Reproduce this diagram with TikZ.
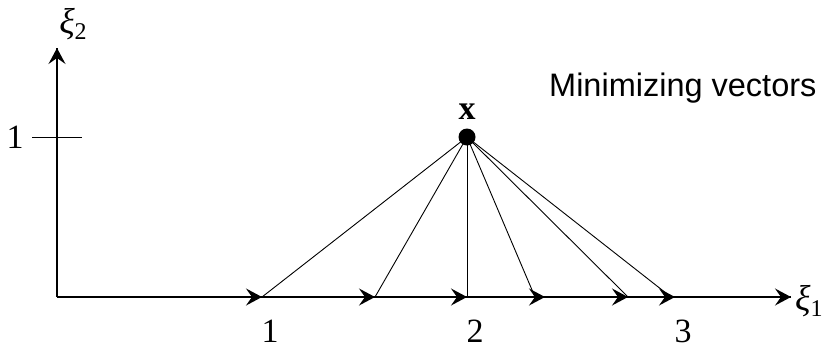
\documentclass[tikz,border=0pt]{standalone}
\usepackage{fontspec}
\setmainfont{Liberation Serif}
\newfontfamily\labsans{Liberation Sans}
\usetikzlibrary{arrows.meta,calc}
\tikzset{
  axisline/.style={line width=1.3pt},
  vecline/.style={line width=0.9pt},
  tipstyle/.style={-{Stealth[length=16pt,width=17pt,inset=6pt]}, line width=1.2pt},
  numlab/.style={font=\fontsize{34}{34}\selectfont, inner sep=0pt},
}
\begin{document}
\begin{tikzpicture}[x=1pt,y=-1pt]
\useasboundingbox (0,0) rectangle (829,357);
% axes
\coordinate (O) at (57,297);
\coordinate (ytop) at (57,48);
\coordinate (xend) at (791,297);
\draw[axisline] (O) -- (xend);
\draw[axisline] (O) -- (ytop);
\draw[tipstyle] ($(ytop)+(0,4)$) -- (ytop);
\draw[tipstyle] ($(xend)+(-4,0)$) -- (xend);
\node[inner sep=0pt, anchor=west] (xi1) at (795,301) {\fontsize{36}{36}\selectfont\itshape ξ\raisebox{-6pt}{\upshape\fontsize{24}{24}\selectfont 1}};
\node[inner sep=0pt] (xi2) at (73,24) {\fontsize{36}{36}\selectfont\itshape ξ\raisebox{-6pt}{\upshape\fontsize{24}{24}\selectfont 2}};
% tick
\coordinate (t1) at (32,137);
\coordinate (t2) at (82,137);
\draw[vecline] (t1) -- (t2);
\node[numlab] (one) at (15,137) {1};
% point x
\node[circle, fill=black, minimum size=17pt, inner sep=0pt] (X) at (467,137) {};
\node[inner sep=0pt] (xlab) at (467,112) {\fontsize{34}{34}\selectfont\bfseries x};
% tips on axis
\coordinate (a1) at (262,297);
\coordinate (a2) at (375,297);
\coordinate (a3) at (467,297);
\coordinate (a4) at (545,297);
\coordinate (a5) at (628,297);
\coordinate (a6) at (675,297);
\coordinate (e4) at (535,297);
\coordinate (e6) at (671,297);
\draw[vecline] (X.center) -- (a1);
\draw[vecline] (X.center) -- (a2);
\draw[vecline] (X.center) -- (a3);
\draw[vecline] (X.center) -- (e4);
\draw[vecline] (X.center) -- (a5);
\draw[vecline] (X.center) -- (e6);
\foreach \p in {a1,a2,a3,a4,a5,a6}{
  \draw[tipstyle] ($(\p)+(-3,0)$) -- (\p);
}
% numbers
\node[numlab] (n1) at (270,331) {1};
\node[numlab] (n2) at (475,331) {2};
\node[numlab] (n3) at (683,331) {3};
\node[inner sep=0pt, anchor=west] (title) at (549,88) {\labsans\fontsize{32.5}{32.5}\selectfont Minimizing vectors};
\end{tikzpicture}
\end{document}
